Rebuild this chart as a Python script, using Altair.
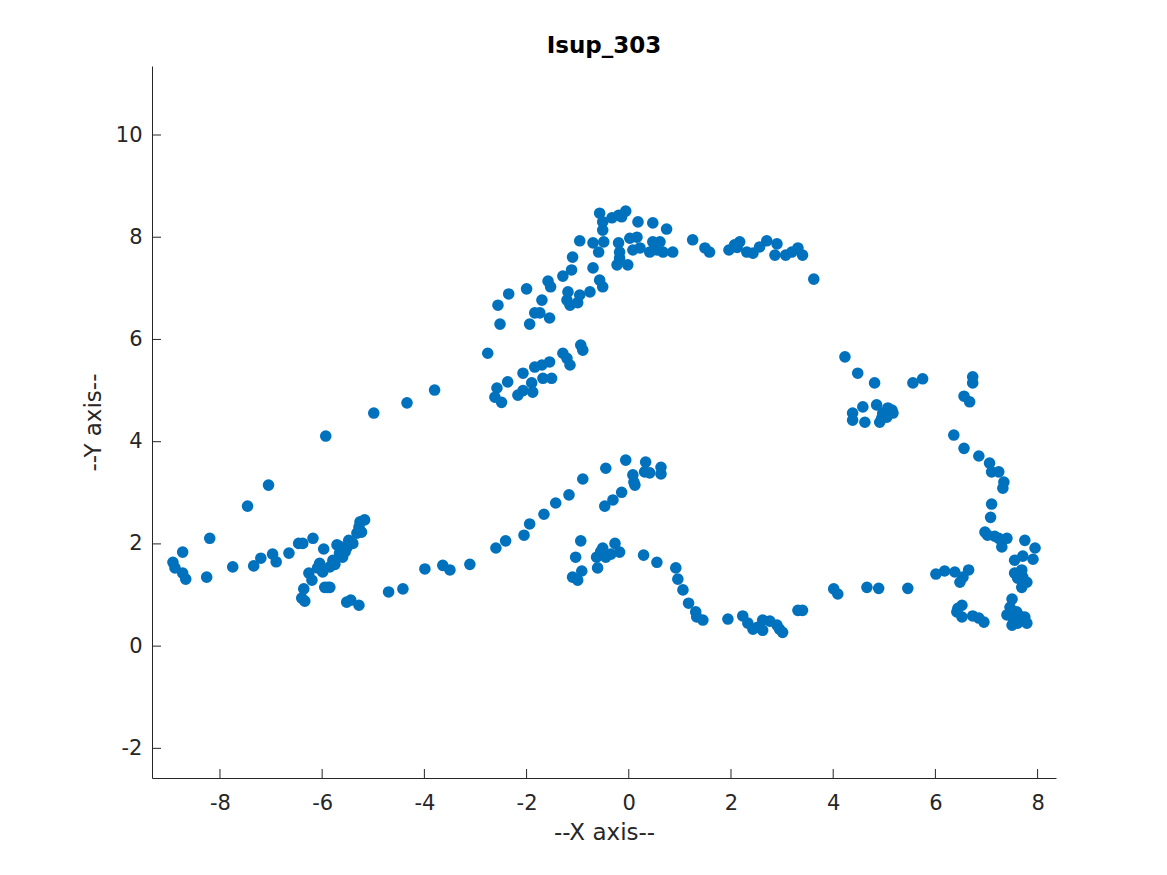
import altair as alt
import pandas as pd

xs = [
    -8.92, -8.73, -8.88, -8.73, -8.67, -8.26, -8.2, -7.75, -7.46, -7.34, -7.2, -7.05, -6.97, -6.9,
    -6.65, -6.46, -6.38, -6.18, -5.97, -5.93, -4.99, -4.34, -6.4, -6.34, -6.36, -6.26, -6.2, -6.09,
    -6.05, -5.89, -5.95, -5.85, -5.99, -5.85, -5.79, -5.71, -5.66, -5.6, -5.52, -5.48, -5.4, -5.32,
    -5.28, -5.26, -5.17, -5.23, -5.75, -5.65, -5.55, -5.52, -5.44, -5.28, -4.7, -4.42, -3.99,
    -3.64, -3.5, -3.11, -2.6, -2.41, -2.05, -1.94, -1.66, -1.43, -1.17, -0.9, -0.45, -0.06, -0.47,
    -0.31, -0.14, 0.08, 0.1, 0.12, 0.33, 0.31, 0.41, 0.63, 0.63, -0.94, -1.04, -0.92, -1.1, -1.0,
    -0.61, -0.63, -0.51, -0.45, -0.35, -0.27, -0.18, -0.55, 0.29, 0.55, 0.92, 0.96, 1.06, 1.17,
    1.31, 1.33, 1.45,
    1.94, 2.23, 2.33, 2.43, 2.52, 2.62, 2.62, 2.76, 2.9, 2.95, 3.01, 3.31, 3.4, 4.01, 4.09, 4.66, 4.89,
    5.46, 6.01, 6.18, 6.38, 6.48, 6.54, 6.65, 6.44, 6.42, 6.52, 6.52, 6.73, 6.85, 6.95, 7.5, 7.46,
    7.4, 7.51, 7.65, 7.75, 7.79, 7.5, 7.61, 7.59, 7.55, 7.71, 7.91, 7.55, 7.69, 7.61, 7.79, 7.69,
    7.71, 7.75, 7.95, 7.3, 7.4, 7.24, 7.16, 7.02, 6.97, 7.08, 7.1, 7.32, 7.34, 7.24, 7.1, 7.06,
    6.85, 6.56, 6.36, 6.67, 6.56, 6.73, 6.73, 5.75, 5.56, 4.81,
    4.23, 4.48, 4.38, 4.38, 4.58, 4.62, 4.85, 4.91, 4.97, 5.07, 5.15, 5.17, 5.05, 4.95, 3.62, 3.4,
    3.31, 3.19, 3.07, 2.9, 2.86, 2.7, 2.56, 2.43, 2.31, 2.17, 2.07, 1.96, 1.58, 1.49, 1.25, 2.12,
    -3.8, -2.76, -2.58, -2.62, -2.49, -2.37, -2.17, -2.07, -2.07, -1.9, -1.88, -1.84, -1.7, -1.68,
    -1.55, -1.51, -1.29, -1.21, -1.15, -0.94, -0.9, -2.56, -2.52, -2.35, -2.0, -1.94, -1.84, -1.74,
    -1.7, -1.55, -1.58, -1.53, -1.29, -1.12, -1.1, -1.19, -1.21, -1.15, -0.96, -0.76, -0.7, -0.57,
    -0.51, -0.96, -0.7, -0.59, -0.49, -0.57, -0.51, -0.51, -0.33, -0.2, -0.06, -0.14, -0.2, -0.18,
    -0.23, -0.02, -0.18, 0.02, 0.16, 0.18, 0.08, 0.22, 0.47, 0.74, 0.47, 0.41, 0.61, 0.67, 0.86,
    0.55, -1.0,
]
ys = [
    1.64, 1.84, 1.53, 1.43, 1.31, 1.35, 2.11, 1.55, 2.74, 1.57, 1.72, 3.15, 1.8, 1.65,
    1.82, 2.01, 2.01, 2.11, 1.9, 4.11, 4.56, 4.76, 0.94, 0.88, 1.12, 1.43, 1.29, 1.53,
    1.62, 1.15, 1.15, 1.15, 1.45, 1.55, 1.68, 1.98, 1.82, 1.74, 1.92, 2.07, 2.01, 2.21,
    2.33, 2.43, 2.47, 2.23, 1.6, 1.95, 1.85, 0.86, 0.9, 0.8, 1.06, 1.12, 1.51,
    1.58, 1.49, 1.6, 1.92, 2.06, 2.17, 2.39, 2.58, 2.8, 2.96, 3.27, 3.48, 3.64, 2.74,
    2.86, 3.01, 3.35, 3.21, 3.15, 3.6, 3.41, 3.39, 3.5, 3.37, 2.06, 1.74, 1.47, 1.35, 1.29,
    1.53, 1.74, 1.92, 1.74, 1.8, 2.01, 1.84, 1.85, 1.78, 1.64, 1.53, 1.31, 1.1, 0.84,
    0.67, 0.57, 0.51,
    0.53, 0.59, 0.45, 0.33, 0.37, 0.51, 0.31, 0.49, 0.41, 0.33, 0.27, 0.7, 0.7, 1.12, 1.02, 1.15, 1.13,
    1.13, 1.41, 1.47, 1.45, 1.25, 1.35, 1.49, 0.74, 0.67, 0.8, 0.57, 0.59, 0.55, 0.47, 0.92, 0.76,
    0.61, 0.57, 0.59, 0.57, 0.45, 0.41, 0.45, 0.67, 1.68, 1.76, 1.7, 1.43, 1.49, 1.33, 1.25, 1.15,
    1.35, 2.07, 1.92, 1.94, 2.11, 2.11, 2.15, 2.17, 2.23, 2.52, 2.78, 3.09, 3.21, 3.41, 3.41, 3.58,
    3.72, 3.87, 4.13, 4.78, 4.89, 5.15, 5.27, 5.23, 5.15, 5.15,
    5.66, 5.34, 4.56, 4.42, 4.68, 4.38, 4.72, 4.38, 4.56, 4.66, 4.62, 4.56, 4.48, 4.46, 7.18, 7.65,
    7.79, 7.71, 7.65, 7.87, 7.65, 7.93, 7.81, 7.69, 7.71, 7.91, 7.85, 7.75, 7.71, 7.79, 7.95, 7.8,
    5.01, 5.73, 5.05, 4.87, 4.77, 5.17, 4.91, 5.34, 5.0, 5.15, 4.97, 5.46, 5.5, 5.24,
    5.56, 5.24, 5.73, 5.63, 5.5, 5.89, 5.79, 6.67, 6.3, 6.89, 6.99, 6.3, 6.52, 6.52,
    6.77, 6.42, 7.14, 7.03, 7.24, 7.36, 7.61, 6.93, 6.77, 6.67, 6.87, 6.93, 7.4, 7.16,
    7.03, 7.93, 7.89, 7.71, 7.91, 8.47, 8.3, 8.14, 8.38, 8.43, 8.51, 8.4, 7.89, 7.71,
    7.46, 7.46, 7.59, 7.98, 8.0, 8.3, 7.75, 7.79, 8.28, 8.16, 7.91, 7.71, 7.91, 7.71, 7.71,
    7.75, 6.72,
]

x_ticks = [-8, -6, -4, -2, 0, 2, 4, 6, 8]
y_ticks = [-2, 0, 2, 4, 6, 8, 10]
x_domain = [-9.33, 8.36]
y_domain = [-2.58, 11.35]

W, H = 904, 712
AXC = "#262626"
FONT = "DejaVu Sans"
LABEL_EXPR = "datum.value < 0 ? '-' + abs(datum.value) : '' + datum.value"

df = pd.DataFrame({"x": xs, "y": ys})

xscale = alt.Scale(domain=x_domain, nice=False, zero=False)
yscale = alt.Scale(domain=y_domain, nice=False, zero=False)

xaxis = alt.Axis(values=x_ticks, title="--X axis--", grid=False, ticks=False,
                 labelExpr=LABEL_EXPR,
                 domainColor=AXC, domainWidth=1, labelColor=AXC, labelFont=FONT,
                 labelFontSize=21, labelPadding=14, titleFont=FONT, titleFontSize=23,
                 titleFontWeight="normal", titleColor=AXC, titlePadding=8)
yaxis = alt.Axis(values=y_ticks, title="--Y axis--", grid=False, ticks=False,
                 labelExpr=LABEL_EXPR,
                 domainColor=AXC, domainWidth=1, labelColor=AXC, labelFont=FONT,
                 labelFontSize=21, labelPadding=10, titleFont=FONT, titleFontSize=23,
                 titleFontWeight="normal", titleColor=AXC, titlePadding=10)

points = alt.Chart(df).mark_circle(size=135, color="#0072BD", opacity=1).encode(
    x=alt.X("x:Q", scale=xscale, axis=xaxis),
    y=alt.Y("y:Q", scale=yscale, axis=yaxis),
)

xt = alt.Chart(pd.DataFrame({"t": x_ticks})).mark_rule(color=AXC, strokeWidth=1).encode(
    x=alt.X("t:Q", scale=xscale, axis=xaxis),
    y=alt.value(H), y2=alt.value(H - 9),
)
yt = alt.Chart(pd.DataFrame({"t": y_ticks})).mark_rule(color=AXC, strokeWidth=1).encode(
    y=alt.Y("t:Q", scale=yscale, axis=yaxis),
    x=alt.value(0), x2=alt.value(9),
)

chart = alt.layer(points, xt, yt).properties(
    width=W, height=H,
    title=alt.TitleParams("Isup_303", font=FONT, fontSize=23, fontWeight="bold",
                          color="#000000", anchor="middle", offset=8),
    autosize=alt.AutoSizeParams(type="none"),
    padding={"left": 144, "top": 58, "right": 100, "bottom": 80},
).configure(background="white").configure_view(stroke=None)

chart.save("out.html", embed_options={"renderer": "svg", "actions": False})
